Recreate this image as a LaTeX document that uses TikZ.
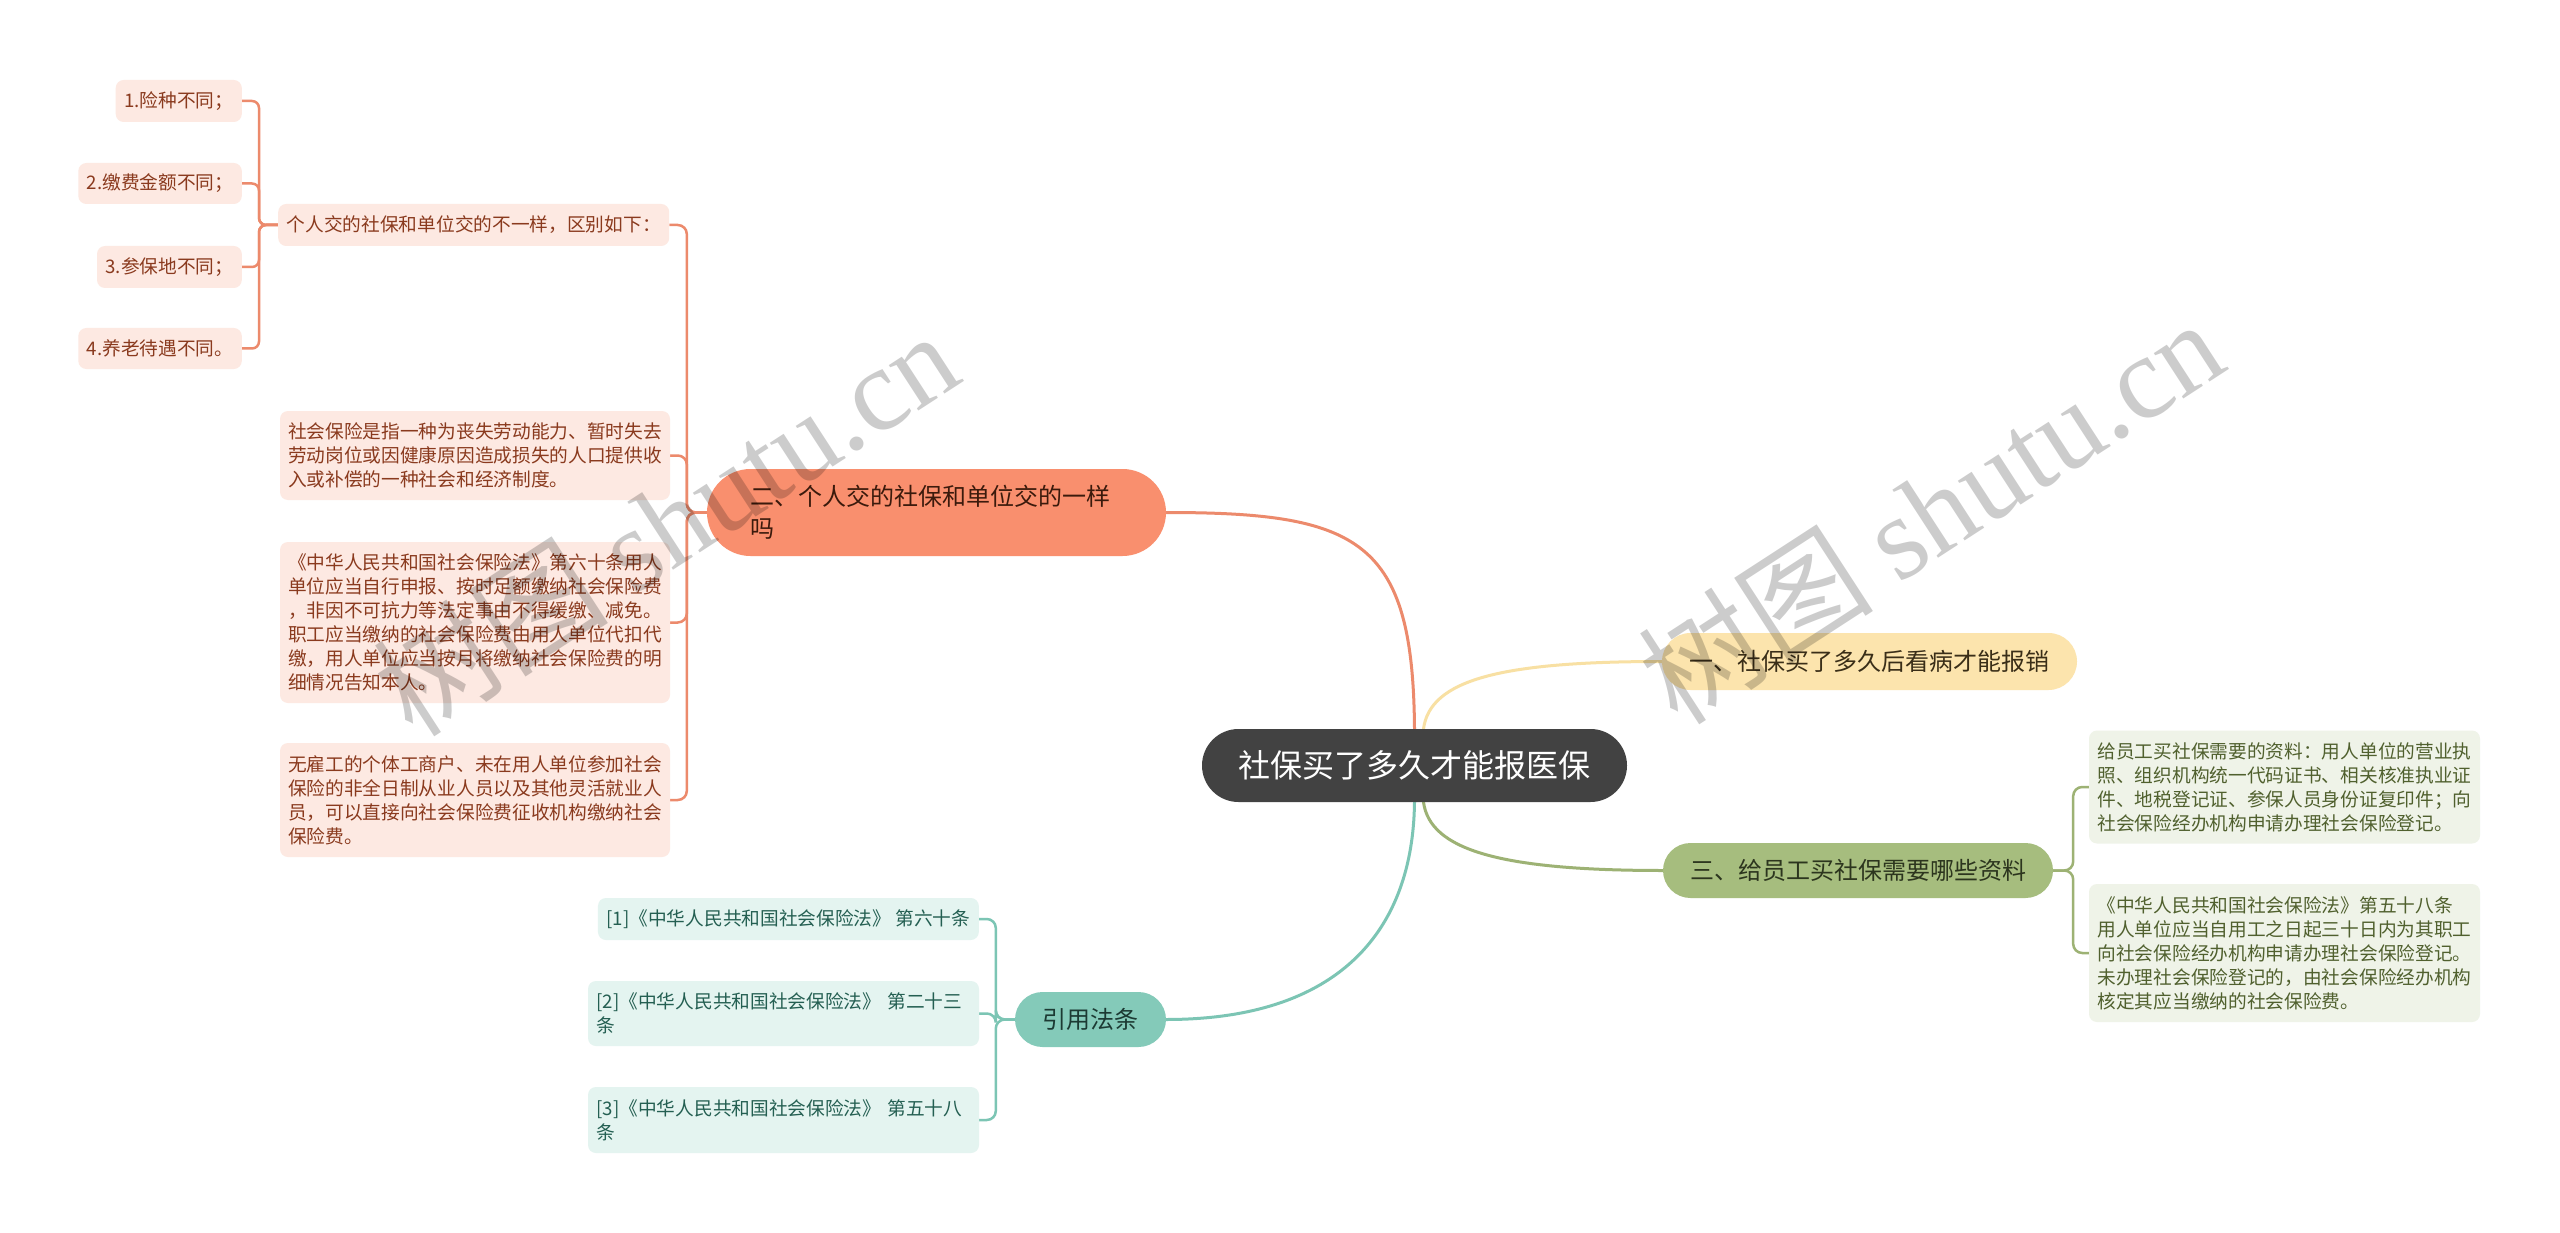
\documentclass[tikz,border=0pt]{standalone}
\usepackage{fontspec}
\setmainfont{Noto Sans CJK SC}
\newfontfamily\wmserif{Liberation Serif}
\usetikzlibrary{shapes.misc,calc}
\definecolor{cfill}{HTML}{424242}
\definecolor{ofill}{HTML}{F98F6E}
\definecolor{oline}{HTML}{EC8A6C}
\definecolor{oleaf}{HTML}{FDE9E2}
\definecolor{oltext}{HTML}{8A3A1E}
\definecolor{otext}{HTML}{3B1A0C}
\definecolor{yfill}{HTML}{FCE4AD}
\definecolor{yline}{HTML}{F8E0A3}
\definecolor{ytext}{HTML}{3A2E18}
\definecolor{gfill}{HTML}{A6BD7E}
\definecolor{gline}{HTML}{9DB274}
\definecolor{gleaf}{HTML}{EFF3E8}
\definecolor{gltext}{HTML}{50602E}
\definecolor{gtext}{HTML}{2C351E}
\definecolor{tfill}{HTML}{84CAB9}
\definecolor{tline}{HTML}{7CC5B4}
\definecolor{tleaf}{HTML}{E4F4F0}
\definecolor{tltext}{HTML}{245F52}
\definecolor{ttext}{HTML}{1C3A33}
\pgfdeclarelayer{bg}
\pgfdeclarelayer{lines}
\pgfsetlayers{bg,lines,main}
\tikzset{
  topic/.style={rounded rectangle, inner sep=0pt, align=center},
  smalltext/.style={font=\fontsize{18.7pt}{24pt}\selectfont},
  bigtext/.style={font=\fontsize{24pt}{32pt}\selectfont},
  leafbox/.style={rectangle, rounded corners=8pt, inner xsep=8.5pt, inner ysep=2pt, align=left, smalltext},
  oleafbox/.style={leafbox, fill=oleaf, text=oltext},
  gleafbox/.style={leafbox, fill=gleaf, text=gltext},
  tleafbox/.style={leafbox, fill=tleaf, text=tltext},
  mainline/.style={line width=3pt, line cap=round},
  bracketline/.style={line width=2.5pt, rounded corners=9pt},
  wmark/.style={text=black, text opacity=0.2, font=\fontsize{118pt}{118pt}\selectfont, inner sep=0pt}
}
\begin{document}
\begin{tikzpicture}[x=1pt,y=-1pt]
\begin{pgfonlayer}{bg}
\fill[white] (0,0) rectangle (2560,1233);
\end{pgfonlayer}
\useasboundingbox (0,0) rectangle (2560,1233);

% central topic
\node[topic, fill=cfill, text=white, minimum width=425pt, minimum height=73pt,
      font=\fontsize{32pt}{38pt}\selectfont] (c) at (1414.5,765.5) {社保买了多久才能报医保};

% main branches
\node[topic, fill=ofill, text=otext, minimum width=459pt, minimum height=87pt, bigtext,
      text width=372pt, align=left] (t2) at (936.5,512.5) {二、个人交的社保和单位交的一样\\吗};
\node[topic, fill=yfill, text=ytext, minimum width=415pt, minimum height=57pt, bigtext] (t1) at (1869.5,661.5) {一、社保买了多久后看病才能报销};
\node[topic, fill=gfill, text=gtext, minimum width=390pt, minimum height=55pt, bigtext] (t3) at (1858,870.5) {三、给员工买社保需要哪些资料};
\node[topic, fill=tfill, text=ttext, minimum width=151pt, minimum height=55pt, bigtext] (t4) at (1090.5,1019.5) {引用法条};

% orange group
\node[oleafbox, anchor=west, minimum height=42pt] (s0) at (278,225) {个人交的社保和单位交的不一样，区别如下：};
\node[oleafbox, anchor=east, minimum height=42pt] (l1) at (242,101) {1.险种不同；};
\node[oleafbox, anchor=east, minimum height=41pt] (l2) at (242,183.5) {2.缴费金额不同；};
\node[oleafbox, anchor=east, minimum height=42pt] (l3) at (242,267) {3.参保地不同；};
\node[oleafbox, anchor=east, minimum height=41pt] (l4) at (242,348.5) {4.养老待遇不同。};

\node[oleafbox, text width=374pt, inner xsep=8pt, minimum height=89pt] (s1) at (475,455.5)
 {社会保险是指一种为丧失劳动能力、暂时失去\\劳动岗位或因健康原因造成损失的人口提供收\\入或补偿的一种社会和经济制度。};
\node[oleafbox, text width=374pt, inner xsep=8pt, minimum height=161pt] (s2) at (475,622.5)
 {《中华人民共和国社会保险法》第六十条用人\\单位应当自行申报、按时足额缴纳社会保险费\\，非因不可抗力等法定事由不得缓缴、减免。\\职工应当缴纳的社会保险费由用人单位代扣代\\缴，用人单位应当按月将缴纳社会保险费的明\\细情况告知本人。};
\node[oleafbox, text width=374pt, inner xsep=8pt, minimum height=114pt] (s3) at (475,800)
 {无雇工的个体工商户、未在用人单位参加社会\\保险的非全日制从业人员以及其他灵活就业人\\员，可以直接向社会保险费征收机构缴纳社会\\保险费。};

% green group
\node[gleafbox, text width=374pt, inner xsep=8.5pt, minimum height=113pt] (g1) at (2284.5,787)
 {给员工买社保需要的资料：用人单位的营业执\\照、组织机构统一代码证书、相关核准执业证\\件、地税登记证、参保人员身份证复印件；向\\社会保险经办机构申请办理社会保险登记。};
\node[gleafbox, text width=374pt, inner xsep=8.5pt, minimum height=138pt] (g2) at (2284.5,953)
 {《中华人民共和国社会保险法》第五十八条\\用人单位应当自用工之日起三十日内为其职工\\向社会保险经办机构申请办理社会保险登记。\\未办理社会保险登记的，由社会保险经办机构\\核定其应当缴纳的社会保险费。};

% teal group
\node[tleafbox, anchor=east, minimum height=42pt] (r1) at (979,919) {[1]《中华人民共和国社会保险法》 第六十条};
\node[tleafbox, text width=374pt, inner xsep=8.5pt, minimum height=65pt] (r2) at (783.5,1013.5)
 {[2]《中华人民共和国社会保险法》 第二十三\\条};
\node[tleafbox, text width=374pt, inner xsep=8.5pt, minimum height=66pt] (r3) at (783.5,1120)
 {[3]《中华人民共和国社会保险法》 第五十八\\条};

\begin{pgfonlayer}{lines}
% main connectors
\draw[mainline, oline] (c.north) .. controls (1413,540) and (1360,512.5) .. (t2.east);
\draw[mainline, yline] ($(c.north)+(9,0)$) .. controls (1430,680) and (1500,661.5) .. (t1.west);
\draw[mainline, gline] ($(c.south)+(9,0)$) .. controls (1430,850) and (1500,870.5) .. (t3.west);
\draw[mainline, tline] (c.south) .. controls (1413,930) and (1340,1019.5) .. (t4.east);

% orange brackets
\foreach \n in {s0,s1,s2,s3}
  \draw[bracketline, oline] (t2.west) -- ++(-20,0) |- (\n.east);
\foreach \n in {l1,l2,l3,l4}
  \draw[bracketline, oline, rounded corners=7pt] (s0.west) -- ++(-19,0) |- (\n.east);
% green brackets
\foreach \n in {g1,g2}
  \draw[bracketline, gline] (t3.east) -- ++(20,0) |- (\n.west);
% teal brackets
\foreach \n in {r1,r2,r3}
  \draw[bracketline, tline] (t4.west) -- ++(-19,0) |- (\n.east);
\end{pgfonlayer}

% watermarks
\node[wmark, rotate=33] (wm1) at (665,522) {树图 {\wmserif shutu.cn}};
\node[wmark, rotate=33] (wm2) at (1930,510) {树图 {\wmserif shutu.cn}};
\end{tikzpicture}
\end{document}
